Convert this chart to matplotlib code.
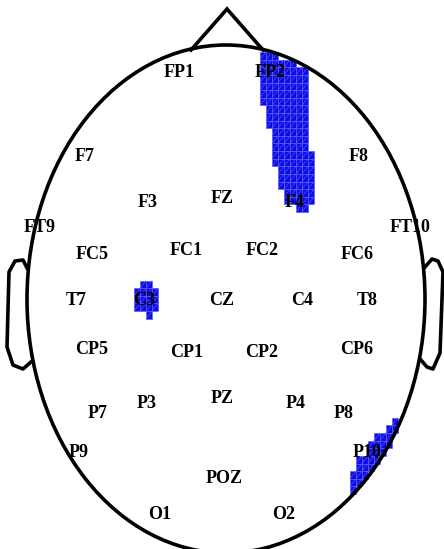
import matplotlib
matplotlib.use("Agg")
import matplotlib.pyplot as plt
from matplotlib.patches import Ellipse, Rectangle
from matplotlib.collections import PatchCollection, LineCollection

# electrode labels and their positions on the scalp map (pixel-like units)
LABELS = ["FP1", "FP2", "F7", "F8", "F3", "FZ", "F4", "FT9", "FT10",
          "FC5", "FC1", "FC2", "FC6", "T7", "C3", "CZ", "C4", "T8",
          "CP5", "CP1", "CP2", "CP6", "P7", "P3", "PZ", "P4", "P8",
          "P9", "P10", "POZ", "O1", "O2"]
LABEL_X = [179, 270, 85, 359, 148, 222, 295, 40, 410,
           92, 186, 262, 357, 76, 144, 222, 302, 367,
           92, 187, 262, 357, 98, 147, 222, 296, 344,
           79, 367, 224, 160, 284]
LABEL_Y = [71, 71, 155, 155, 201, 197, 201, 226, 226,
           253, 249, 249, 253, 299, 299, 299, 299, 299,
           348, 351, 351, 348, 412, 402, 397, 402, 412,
           451, 451, 477, 513, 513]

# significant cells of the interpolated grid: (row, first col, last col)
FP2_RUNS = [(6, 43, 45), (7, 43, 48), (8, 43, 50), (9, 43, 50), (10, 43, 50),
            (11, 43, 50), (12, 43, 50), (13, 44, 50), (14, 44, 50), (15, 44, 50),
            (16, 45, 50), (17, 45, 50), (18, 45, 50), (19, 45, 51), (20, 45, 51),
            (21, 46, 51), (22, 46, 51), (23, 46, 51), (24, 47, 51), (25, 47, 51),
            (26, 49, 50)]
C3_RUNS = [(36, 23, 24), (37, 22, 25), (38, 22, 25), (39, 22, 25), (40, 24, 24)]
P10_RUNS = [(54, 65, 65), (55, 64, 65), (56, 62, 64), (57, 61, 64), (58, 61, 63),
            (59, 59, 62), (60, 59, 61), (61, 58, 60), (62, 58, 59), (63, 58, 58)]

# head geometry
HEAD_CENTER = (226, 299)
HEAD_W, HEAD_H = 398, 508
NOSE_X = [191, 227, 263]
NOSE_Y = [50, 9, 50]
LEAR_X = [27, 23, 15, 9, 7, 13, 23, 31]
LEAR_Y = [268, 260, 261, 272, 347, 365, 369, 362]
REAR_X = [425, 432, 438, 443, 440, 433, 427, 421]
REAR_Y = [267, 259, 261, 272, 353, 369, 367, 360]

# grid mapping
X0, CW = 2.0, 6.0
Y0, CH = 6.3, 7.62

fig = plt.figure(figsize=(4.44, 5.49), dpi=100)
ax = fig.add_axes([0, 0, 1, 1])
ax.set_xlim(0, 444)
ax.set_ylim(549, 0)
ax.axis("off")

rects, diags = [], []
for runs in (FP2_RUNS, C3_RUNS, P10_RUNS):
    for r, c0, c1 in runs:
        for c in range(c0, c1 + 1):
            x = X0 + CW * c
            y = Y0 + CH * r
            rects.append(Rectangle((x, y), CW, CH))
            diags.append([(x, y + CH), (x + CW, y)])

ax.add_collection(PatchCollection(rects, facecolor="#0c0ce8", edgecolor="#5a5af5",
                                  linewidth=0.45, zorder=2))
ax.add_collection(LineCollection(diags, colors="#5a5af5", linewidths=0.45, zorder=2))

lw = 2.6
ax.add_patch(Ellipse(HEAD_CENTER, HEAD_W, HEAD_H, fill=False, edgecolor="black",
                     linewidth=lw, zorder=3))
ax.plot(NOSE_X, NOSE_Y, color="black", lw=lw, zorder=3, solid_joinstyle="miter")
ax.plot(LEAR_X, LEAR_Y, color="black", lw=lw, zorder=3)
ax.plot(REAR_X, REAR_Y, color="black", lw=lw, zorder=3)

for name, x, y in zip(LABELS, LABEL_X, LABEL_Y):
    ax.text(x, y + 6, name, ha="center", va="baseline", fontsize=13,
            fontweight="bold", family="Liberation Serif", zorder=4)

fig.savefig("out.png", dpi=100)
